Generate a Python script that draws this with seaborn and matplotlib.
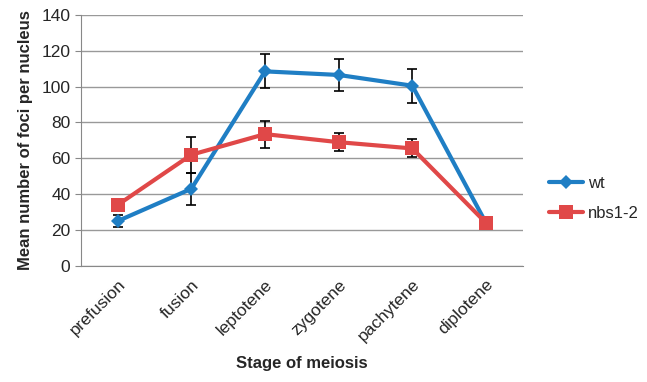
import matplotlib.pyplot as plt
import seaborn as sns
import numpy as np
import pandas as pd

stages = ["prefusion", "fusion", "leptotene", "zygotene", "pachytene", "diplotene"]
wt_mean = [25, 43, 108.5, 106.5, 100.5, 24]
wt_err = [3.5, 9, 9.5, 9, 9.5, 2.5]
nbs_mean = [34, 62, 73.5, 69, 65.5, 24]
nbs_err = [3, 10, 7.5, 5, 5, 2]

colors = {"wt": "#1f7ec4", "nbs1-2": "#e04848"}

df = pd.DataFrame({
    "stage": stages * 2,
    "x": list(range(len(stages))) * 2,
    "mean": wt_mean + nbs_mean,
    "err": wt_err + nbs_err,
    "line": ["wt"] * len(stages) + ["nbs1-2"] * len(stages),
})

sns.set_style("white")
plt.rcParams["font.family"] = ["Liberation Sans", "DejaVu Sans"]

fig, ax = plt.subplots(figsize=(6.47, 3.82), dpi=100)
fig.subplots_adjust(left=0.125, right=0.808, top=0.961, bottom=0.304)

# error bars first so the lines sit on top
for name, grp in df.groupby("line", sort=False):
    ax.errorbar(grp["x"], grp["mean"], yerr=grp["err"], fmt="none",
                ecolor="black", elinewidth=1.2, capsize=3.5, capthick=1.2, zorder=2)

sns.lineplot(data=df[df.line == "wt"], x="x", y="mean", ax=ax, color=colors["wt"],
             lw=3, marker="D", markersize=7, markeredgewidth=0, label="wt", zorder=3)
sns.lineplot(data=df[df.line == "nbs1-2"], x="x", y="mean", ax=ax, color=colors["nbs1-2"],
             lw=3, marker="s", markersize=10, markeredgewidth=0, label="nbs1-2", zorder=4)

ax.set_xlim(-0.5, len(stages) - 0.5)
ax.set_ylim(0, 140)
ax.set_yticks(np.arange(0, 141, 20))
ax.set_xticks(range(len(stages)))
ax.set_xticklabels(stages, rotation=45, ha="right", rotation_mode="anchor", fontsize=12.5)
ax.set_xticks(np.arange(-0.5, len(stages), 1), minor=True)
ax.tick_params(axis="x", which="major", length=0, pad=8)
ax.tick_params(axis="x", which="minor", length=5, color="#888888", width=1, direction="out")
ax.tick_params(axis="y", length=4, color="#888888", labelsize=12.5, left=True)
ax.yaxis.grid(True, color="#999999", lw=1)
ax.set_axisbelow(True)

for s in ["top", "right"]:
    ax.spines[s].set_visible(False)
for s in ["left", "bottom"]:
    ax.spines[s].set_color("#888888")

ax.set_xlabel("Stage of meiosis", fontsize=12, fontweight="bold", labelpad=8)
ax.set_ylabel("Mean number of foci per nucleus", fontsize=12, fontweight="bold", labelpad=6)

ax.legend(loc="center left", bbox_to_anchor=(1.06, 0.27), frameon=False, fontsize=12,
          handlelength=2.0, labelspacing=0.9, handletextpad=0.3, borderaxespad=0,
          borderpad=0)

plt.savefig("out.png", dpi=100)
